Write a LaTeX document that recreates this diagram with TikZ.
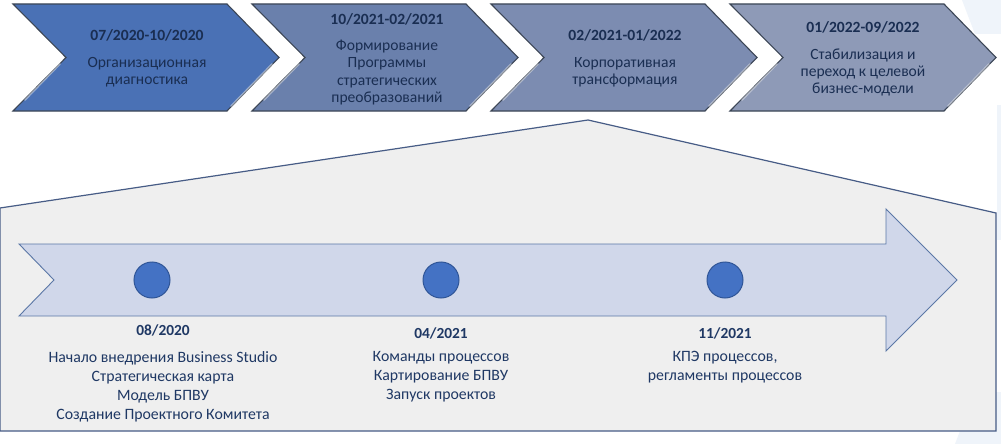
\documentclass[tikz,border=0pt]{standalone}
\usepackage{fontspec}
\setmainfont{Carlito}
\definecolor{chA}{HTML}{4A71B5}
\definecolor{chB}{HTML}{6A80AC}
\definecolor{chC}{HTML}{7C8CB1}
\definecolor{chD}{HTML}{8E9AB7}
\definecolor{chedge}{HTML}{3C4656}
\definecolor{chtext}{HTML}{1A2E52}
\definecolor{housefill}{HTML}{EFEFEF}
\definecolor{houseedge}{HTML}{475C86}
\definecolor{arrfill}{HTML}{D0D7EA}
\definecolor{arredge}{HTML}{5B77A6}
\definecolor{dotfill}{HTML}{4472C4}
\definecolor{dotedge}{HTML}{2F5597}
\definecolor{labtext}{HTML}{1F3864}
\definecolor{faint}{HTML}{EFF4FA}
\begin{document}
\begin{tikzpicture}[x=1pt,y=-1pt,
  chevtext/.style={text=chtext,align=center,inner sep=0pt,
    font=\fontsize{15.6}{17.3}\selectfont},
  datelab/.style={text=labtext,inner sep=0pt,
    font=\fontsize{15.4}{17}\selectfont\bfseries},
  listlab/.style={text=labtext,align=center,inner sep=0pt,anchor=north,
    font=\fontsize{15.8}{18.8}\selectfont},
  milestone/.style={circle,draw=dotedge,fill=dotfill,line width=1pt,
    minimum size=36pt,inner sep=0pt},
  chevedge/.style={draw=chedge,line width=1.1pt,line join=miter},
  glint/.style={white,opacity=0.45,line width=1.6pt,line cap=round}]
\useasboundingbox (0,0) rectangle (1001,444);
\fill[white] (0,0) rectangle (1001,444);
% faint background decorations
\fill[faint] (962,0) -- (1001,0) -- (1001,34) -- (975,34) -- cycle;
\fill[faint] (997,105) rectangle (1001,240);
\fill[faint] (955,444) -- (975,392) -- (1001,392) -- (1001,444) -- cycle;
% chevrons
\foreach \L/\col/\nm in {13/chA/p1,252/chB/p2,491/chC/p3,730/chD/p4}{
  \path[chevedge,fill=\col] (\L,4) -- ({\L+214},4) -- ({\L+266},57.5)
     -- ({\L+214},111) -- (\L,111) -- ({\L+53},57.5) -- cycle;
  \draw[glint] ({\L+259},64) -- ({\L+218},106);
  \draw[glint] ({\L+47},64) -- ({\L+12},100);
}
\node[chevtext] (t1) at (147,58.5) {{\bfseries 07/2020-10/2020}\\[9pt]Организационная\\диагностика};
\node[chevtext] (t2) at (387,59) {{\bfseries 10/2021-02/2021}\\[9pt]Формирование\\Программы\\стратегических\\преобразований};
\node[chevtext] (t3) at (625,58.5) {{\bfseries 02/2021-01/2022}\\[9pt]Корпоративная\\трансформация};
\node[chevtext] (t4) at (863,59) {{\bfseries 01/2022-09/2022}\\[9pt]Стабилизация и\\переход к целевой\\бизнес-модели};
% house
\path[fill=housefill,draw=houseedge,line width=1.2pt,line join=miter]
  (0,208) -- (588,120) -- (996,213) -- (996,431) -- (0,431) -- cycle;
% big arrow
\path[fill=arrfill,draw=arredge,line width=0.9pt,line join=miter]
  (19,244) -- (886,244) -- (886,209) -- (957,280) -- (886,351)
  -- (886,316) -- (19,316) -- (54,280) -- cycle;
% milestones
\node[milestone] (m1) at (152,280) {};
\node[milestone] (m2) at (441,280) {};
\node[milestone] (m3) at (725,280) {};
\node[datelab] (d1) at (163,330) {08/2020};
\node[datelab] (d2) at (441,333) {04/2021};
\node[datelab] (d3) at (725,333) {11/2021};
\node[listlab] (l1) at (163,351.5) {Начало внедрения Business Studio\\Стратегическая карта\\Модель БПВУ\\Создание Проектного Комитета};
\node[listlab] (l2) at (441,351.5) {Команды процессов\\Картирование БПВУ\\Запуск проектов};
\node[listlab] (l3) at (725,351.5) {КПЭ процессов,\\регламенты процессов};
\end{tikzpicture}
\end{document}
